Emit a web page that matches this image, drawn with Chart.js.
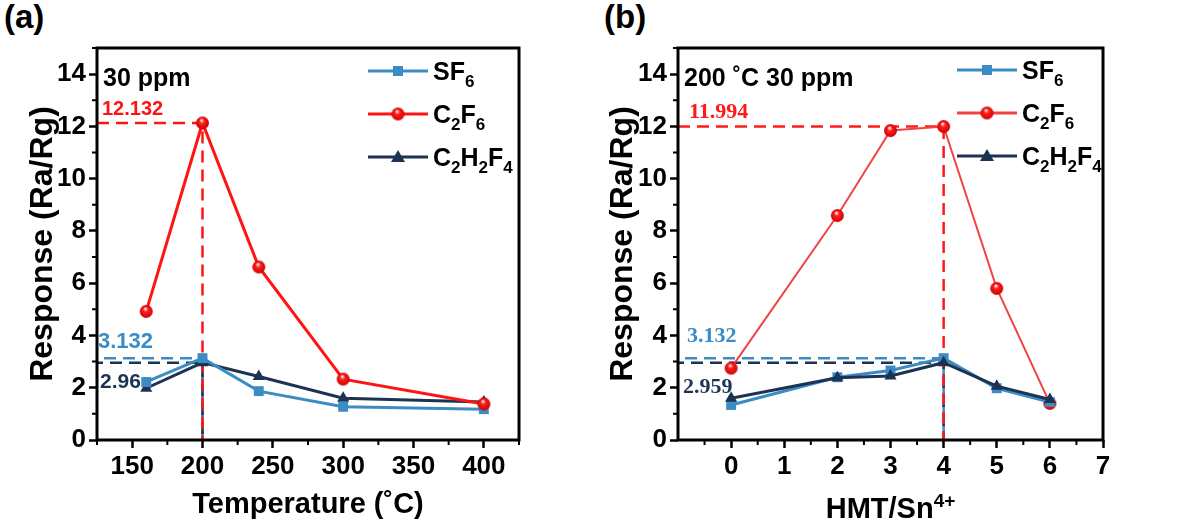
<!DOCTYPE html>
<html lang="en">
<head>
    <meta charset="UTF-8">
    <title>Response vs temperature and HMT/Sn ratio</title>
    <script src="https://cdn.jsdelivr.net/npm/chart.js"></script>
    <style>
        body, html {
            margin: 0;
            padding: 0;
            background: #fff;
        }

        #wrap {
            position: relative;
            width: 1187px;
            height: 532px;
            font-family: 'Liberation Sans', Arial, sans-serif;
        }

        .panel {
            position: absolute;
            top: 0;
            height: 532px;
        }

        .panel canvas {
            display: block;
        }

        .tag {
            position: absolute;
            top: -2px;
            font-size: 33px;
            font-weight: bold;
            color: #000;
        }
    </style>
</head>
<body>
<div id="wrap">
    <div class="tag" style="left:4px">(a)</div>
    <div class="tag" style="left:604px">(b)</div>
    <div class="panel" style="left:0;width:593px"><canvas id="chartA"></canvas></div>
    <div class="panel" style="left:593px;width:594px"><canvas id="chartB"></canvas></div>
</div>

<script>
    // series names (digits become subscripts in the legend)
    const seriesNames = ['SF6', 'C2F6', 'C2H2F4'];

    // panel (a): response vs operating temperature, 30 ppm
    const tempsA = [160, 200, 240, 300, 400];
    const sf6A = [2.22, 3.132, 1.87, 1.27, 1.18];
    const c2f6A = [4.92, 12.132, 6.62, 2.33, 1.38];
    const c2h2f4A = [1.98, 2.96, 2.43, 1.6, 1.45];

    // panel (b): response vs HMT/Sn4+ ratio, 200 C 30 ppm
    const ratiosB = [0, 2, 3, 4, 5, 6];
    const sf6B = [1.34, 2.4, 2.66, 3.132, 1.98, 1.45];
    const c2f6B = [2.75, 8.59, 11.84, 11.994, 5.8, 1.4];
    const c2h2f4B = [1.6, 2.38, 2.45, 2.959, 2.06, 1.55];

    // tick labels
    const yTicks = [0, 2, 4, 6, 8, 10, 12, 14];
    const xTicksA = [150, 200, 250, 300, 350, 400];
    const xTicksB = [0, 1, 2, 3, 4, 5, 6, 7];

    const blue = '#3b8cc4';
    const navy = '#1d3352';
    const redA = '#ff1414';
    const redB = '#f04444';
    const sans = "'Liberation Sans', Arial, sans-serif";
    const serif = "'Liberation Serif', 'Times New Roman', serif";

    Chart.defaults.font.family = sans;
    Chart.defaults.color = '#000';

    // glossy red ball used as the C2F6 marker
    function sphere(color, r) {
        const c = document.createElement('canvas');
        c.width = c.height = r * 2 + 2;
        const g = c.getContext('2d');
        const m = r + 1;
        const grad = g.createRadialGradient(m - r * 0.15, m - r * 0.45, r * 0.05, m, m, r);
        grad.addColorStop(0, '#ffffff');
        grad.addColorStop(0.35, color);
        grad.addColorStop(1, '#d00000');
        g.fillStyle = grad;
        g.beginPath();
        g.arc(m, m, r, 0, Math.PI * 2);
        g.fill();
        return c;
    }
    const ball = sphere('#ff2020', 6.5);

    // text with digit subscripts (or a superscript tail)
    function drawRich(ctx, parts, x, y, size, color) {
        ctx.fillStyle = color;
        ctx.textBaseline = 'alphabetic';
        ctx.textAlign = 'left';
        parts.forEach(p => {
            const s = p.small ? Math.round(size * 0.66) : size;
            ctx.font = 'bold ' + s + 'px ' + sans;
            const dy = p.small === 'sub' ? size * 0.28 : (p.small === 'sup' ? -size * 0.38 : 0);
            ctx.fillText(p.t, x, y + dy);
            x += ctx.measureText(p.t).width;
        });
        return x;
    }

    function richWidth(ctx, parts, size) {
        let w = 0;
        parts.forEach(p => {
            ctx.font = 'bold ' + (p.small ? Math.round(size * 0.66) : size) + 'px ' + sans;
            w += ctx.measureText(p.t).width;
        });
        return w;
    }

    function subParts(name) {
        return name.split(/(\d+)/).filter(s => s).map(s => ({t: s, small: /\d/.test(s) ? 'sub' : false}));
    }

    function marker(ctx, kind, x, y, color) {
        ctx.fillStyle = color;
        ctx.beginPath();
        if (kind === 'rect') {
            ctx.rect(x - 5, y - 5, 10, 10);
            ctx.fill();
        } else if (kind === 'triangle') {
            ctx.moveTo(x, y - 7);
            ctx.lineTo(x + 7, y + 5);
            ctx.lineTo(x - 7, y + 5);
            ctx.closePath();
            ctx.fill();
        } else {
            ctx.drawImage(ball, x - ball.width / 2, y - ball.height / 2);
        }
    }

    // frame, minor ticks, legend, notes
    const decor = {
        id: 'decor',
        afterDraw(chart) {
            const {ctx, chartArea: a, scales: {x, y}} = chart;
            const o = chart.options.plugins.decor;
            ctx.save();

            // minor ticks
            ctx.strokeStyle = '#000';
            ctx.lineWidth = 2;
            ctx.beginPath();
            const xt = x.ticks.map(t => t.value);
            const xs = xt[1] - xt[0];
            const xm = [xt[0] - xs / 2].concat(xt.map(v => v + xs / 2));
            xm.forEach(v => {
                if (v < x.min || v > x.max) return;
                const px = x.getPixelForValue(v);
                ctx.moveTo(px, a.bottom);
                ctx.lineTo(px, a.bottom + 5);
            });
            y.ticks.forEach(t => {
                const vm = t.value + 1;
                if (vm > y.max) return;
                const py = y.getPixelForValue(vm);
                ctx.moveTo(a.left, py);
                ctx.lineTo(a.left - 5, py);
            });
            ctx.stroke();

            // frame
            ctx.lineWidth = 3;
            ctx.strokeRect(a.left, a.top, a.right - a.left, a.bottom - a.top);

            // condition text
            drawRich(ctx, o.cond, a.left + 6, a.top + 38, 25, '#000');

            // peak value notes
            o.notes.forEach(n => {
                ctx.font = n.font;
                ctx.fillStyle = n.color;
                ctx.textBaseline = 'alphabetic';
                ctx.textAlign = 'left';
                ctx.fillText(String(n.value), a.left + n.dx, y.getPixelForValue(n.value) + n.dy);
            });

            // legend
            const L = o.legend;
            o.series.forEach((s, i) => {
                const ry = L.y0 + i * L.gap;
                ctx.strokeStyle = s.color;
                ctx.lineWidth = 3;
                ctx.beginPath();
                ctx.moveTo(L.x0, ry);
                ctx.lineTo(L.x0 + 60, ry);
                ctx.stroke();
                marker(ctx, s.kind, L.x0 + 30, ry, s.color);
                drawRich(ctx, subParts(s.name), L.x0 + 65, ry + 9, 25, '#000');
            });

            // x title with superscript
            if (o.xTitle) {
                const w = richWidth(ctx, o.xTitle, 29);
                drawRich(ctx, o.xTitle, (a.left + a.right) / 2 - w / 2, 518, 29, '#000');
            }
            ctx.restore();
        }
    };

    function guide(xs, ys, color, dashOffset) {
        return {
            data: xs.map((v, i) => ({x: v, y: ys[i]})),
            borderColor: color,
            borderWidth: 2.5,
            borderDash: [12, 7],
            borderDashOffset: dashOffset || 0,
            pointRadius: 0,
            fill: false,
            order: 10
        };
    }

    function series(xv, yv, color, style, width, order) {
        return {
            data: xv.map((v, i) => ({x: v, y: yv[i]})),
            borderColor: color,
            backgroundColor: color,
            borderWidth: width,
            pointStyle: style,
            pointRadius: 7,
            pointBorderWidth: 0,
            fill: false,
            order: order
        };
    }

    function peakIndex(arr) {
        return arr.indexOf(Math.max(...arr));
    }

    function makeOptions(xMin, xMax, xTicks, xTitle, padLeft, padRight, yWidth, decorOpts) {
        return {
            responsive: true,
            maintainAspectRatio: false,
            animation: false,
            layout: {padding: {left: padLeft, top: 48, right: padRight, bottom: 0}},
            scales: {
                x: {
                    type: 'linear',
                    min: xMin,
                    max: xMax,
                    afterBuildTicks: s => { s.ticks = xTicks.map(v => ({value: v})); },
                    afterFit: s => { s.height = 92; },
                    border: {display: false},
                    grid: {drawOnChartArea: false, drawTicks: true, tickLength: 8, tickWidth: 2.5, tickColor: '#000'},
                    ticks: {font: {size: 26, weight: 'bold'}, color: '#000', padding: 3, maxRotation: 0},
                    title: {display: !!xTitle, text: xTitle, font: {size: 29, weight: 'bold'}, color: '#000', padding: {top: 0, bottom: 10}}
                },
                y: {
                    min: 0,
                    max: 15,
                    afterBuildTicks: s => { s.ticks = yTicks.map(v => ({value: v})); },
                    afterFit: s => { s.width = yWidth; },
                    border: {display: false},
                    grid: {drawOnChartArea: false, drawTicks: true, tickLength: 8, tickWidth: 2.5, tickColor: '#000'},
                    ticks: {font: {size: 26, weight: 'bold'}, color: '#000', padding: 3},
                    title: {display: true, text: 'Response (Ra/Rg)', font: {size: 32, weight: 'bold'}, color: '#000', padding: {top: 4, bottom: 0}}
                }
            },
            plugins: {
                legend: {display: false},
                tooltip: {enabled: false},
                decor: decorOpts
            }
        };
    }

    // panel (a)
    const pa = peakIndex(c2f6A);
    const xMinA = 125, xMaxA = 425;
    new Chart(document.getElementById('chartA'), {
        type: 'line',
        data: {
            datasets: [
                series(tempsA, c2f6A, redA, ball, 3, 1),
                series(tempsA, sf6A, blue, 'rect', 3, 2),
                series(tempsA, c2h2f4A, navy, 'triangle', 3, 3),
                guide([xMinA, tempsA[pa], tempsA[pa]], [c2f6A[pa], c2f6A[pa], 0], redA),
                guide([xMinA, tempsA[pa], tempsA[pa]], [c2h2f4A[pa], c2h2f4A[pa], 0], navy, 6),
                guide([xMinA, tempsA[pa], tempsA[pa]], [sf6A[pa], sf6A[pa], 0], blue, 12)
            ]
        },
        options: makeOptions(xMinA, xMaxA, xTicksA, 'Temperature (\u02daC)', 20, 74, 77, {
            cond: [{t: '30 ppm'}],
            notes: [
                {value: c2f6A[pa], color: redA, font: 'bold 20px ' + sans, dx: 5, dy: -8},
                {value: sf6A[pa], color: blue, font: 'bold 22px ' + sans, dx: 1, dy: -10},
                {value: c2h2f4A[pa], color: navy, font: 'bold 21px ' + sans, dx: 3, dy: 25}
            ],
            legend: {x0: 368, y0: 71, gap: 43},
            series: [
                {name: seriesNames[0], color: blue, kind: 'rect'},
                {name: seriesNames[1], color: redA, kind: 'ball'},
                {name: seriesNames[2], color: navy, kind: 'triangle'}
            ]
        }),
        plugins: [decor]
    });

    // panel (b)
    const pb = peakIndex(c2f6B);
    const xMinB = -1, xMaxB = 7;
    new Chart(document.getElementById('chartB'), {
        type: 'line',
        data: {
            datasets: [
                series(ratiosB, c2h2f4B, navy, 'triangle', 3, 1),
                series(ratiosB, sf6B, blue, 'rect', 3, 2),
                series(ratiosB, c2f6B, redB, ball, 2, 3),
                guide([xMinB, ratiosB[pb], ratiosB[pb]], [c2f6B[pb], c2f6B[pb], 0], '#ff1a1a'),
                guide([xMinB, ratiosB[pb], ratiosB[pb]], [c2h2f4B[pb], c2h2f4B[pb], 0], navy, 6),
                guide([xMinB, ratiosB[pb], ratiosB[pb]], [sf6B[pb], sf6B[pb], 0], blue, 12)
            ]
        },
        options: makeOptions(xMinB, xMaxB, xTicksB, '', 7, 84, 78, {
            cond: [{t: '200 \u02daC 30 ppm'}],
            notes: [
                {value: c2f6B[pb], color: '#ff1a1a', font: 'bold 22px ' + serif, dx: 11, dy: -9},
                {value: sf6B[pb], color: blue, font: 'bold 22px ' + serif, dx: 9, dy: -16},
                {value: c2h2f4B[pb], color: navy, font: 'bold 22px ' + serif, dx: 5, dy: 30}
            ],
            legend: {x0: 364, y0: 70, gap: 43},
            series: [
                {name: seriesNames[0], color: blue, kind: 'rect'},
                {name: seriesNames[1], color: redB, kind: 'ball'},
                {name: seriesNames[2], color: navy, kind: 'triangle'}
            ],
            xTitle: [{t: 'HMT/Sn'}, {t: '4+', small: 'sup'}]
        }),
        plugins: [decor]
    });
</script>
</body>
</html>
